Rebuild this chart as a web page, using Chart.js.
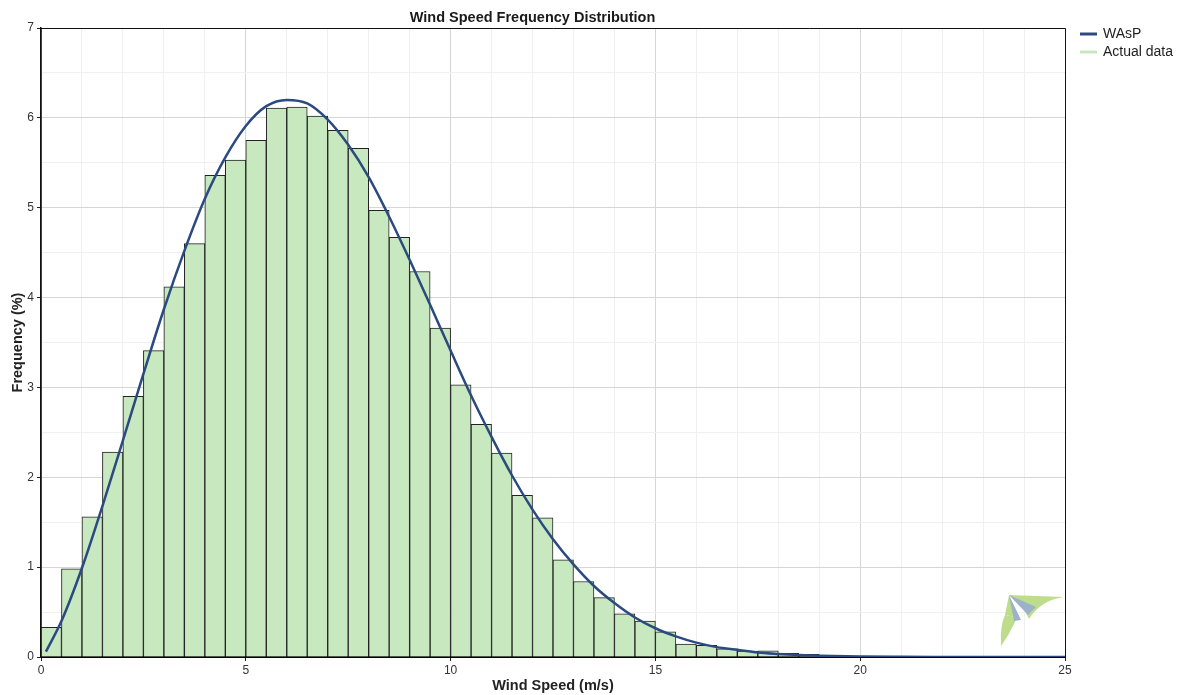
<!DOCTYPE html>
<html>
<head>
<meta charset="utf-8">
<script src="https://cdn.jsdelivr.net/npm/chart.js@4.4.1/dist/chart.umd.min.js"></script>
<style>
    html, body { margin: 0; padding: 0; background: #fff; }
    #wrap { width: 1185px; height: 695px; }
</style>
</head>
<body>
<div id="wrap"><canvas id="freqChart" width="1185" height="695"></canvas></div>
<script>
// bin centres (m/s), 0.5 m/s wide bins
const speedBins = [0.25, 0.75, 1.25, 1.75, 2.25, 2.75, 3.25, 3.75, 4.25, 4.75,
    5.25, 5.75, 6.25, 6.75, 7.25, 7.75, 8.25, 8.75, 9.25, 9.75,
    10.25, 10.75, 11.25, 11.75, 12.25, 12.75, 13.25, 13.75, 14.25, 14.75,
    15.25, 15.75, 16.25, 16.75, 17.25, 17.75, 18.25, 18.75];
const actualFreq = [0.33, 0.98, 1.56, 2.28, 2.90, 3.41, 4.12, 4.60, 5.36, 5.53,
    5.75, 6.11, 6.12, 6.02, 5.86, 5.66, 4.97, 4.67, 4.29, 3.66,
    3.03, 2.59, 2.27, 1.80, 1.55, 1.08, 0.84, 0.66, 0.48, 0.40,
    0.28, 0.145, 0.13, 0.09, 0.067, 0.07, 0.04, 0.03];

// WAsP fitted curve
const waspSpeeds = [0.12, 0.5, 1, 1.5, 2, 2.5, 3, 3.5, 4, 4.5,
    5, 5.5, 6, 6.5, 7, 7.5, 8, 8.5, 9, 9.5,
    10, 10.5, 11, 11.5, 12, 12.5, 13, 13.5, 14, 14.5,
    15, 15.5, 16, 16.5, 17, 17.5, 18, 18.5, 19, 20, 21, 22, 23, 24, 25];
const waspFreq = [0.06, 0.40, 0.99, 1.68, 2.41, 3.15, 3.87, 4.52, 5.10, 5.56,
    5.91, 6.13, 6.20, 6.16, 5.98, 5.70, 5.34, 4.90, 4.42, 3.92,
    3.41, 2.91, 2.45, 2.02, 1.64, 1.31, 1.03, 0.79, 0.60, 0.44,
    0.32, 0.23, 0.16, 0.11, 0.08, 0.05, 0.034, 0.022, 0.014, 0.005, 0.002, 0.001, 0, 0, 0];

const xTickLabels = [0, 5, 10, 15, 20, 25];
const yTickLabels = [0, 1, 2, 3, 4, 5, 6, 7];

const FONT = '"Liberation Sans", Arial, sans-serif';
const waspColor = '#2b4a80';
const barFill = '#c8e8c0';

// box round the plot area
const frameBox = {
    id: 'frameBox',
    afterDatasetsDraw(chart) {
        const a = chart.chartArea;
        const ctx = chart.ctx;
        ctx.save();
        ctx.strokeStyle = '#111';
        ctx.lineWidth = 1;
        ctx.beginPath();
        ctx.moveTo(a.left, a.bottom);
        ctx.lineTo(a.left, a.top + 0.5);
        ctx.lineTo(a.right + 0.5, a.top + 0.5);
        ctx.lineTo(a.right + 0.5, a.bottom);
        ctx.stroke();
        ctx.restore();
    }
};

// little logo in the bottom right corner
const logoMark = {
    id: 'logoMark',
    beforeDatasetsDraw(chart) {
        const R = chart.chartArea.right, B = chart.chartArea.bottom;
        const ctx = chart.ctx;
        ctx.save();
        ctx.fillStyle = '#bedd8c';
        // upper wing
        ctx.beginPath();
        ctx.moveTo(R - 56, B - 62);
        ctx.lineTo(R - 1, B - 60);
        ctx.quadraticCurveTo(R - 24, B - 57, R - 36, B - 38);
        ctx.lineTo(R - 42, B - 50);
        ctx.closePath();
        ctx.fill();
        // lower wing
        ctx.beginPath();
        ctx.moveTo(R - 56, B - 62);
        ctx.lineTo(R - 49, B - 40);
        ctx.lineTo(R - 60, B - 42);
        ctx.closePath();
        ctx.fill();
        ctx.beginPath();
        ctx.moveTo(R - 60, B - 42);
        ctx.lineTo(R - 49, B - 40);
        ctx.lineTo(R - 50, B - 35);
        ctx.quadraticCurveTo(R - 56, B - 22, R - 64, B - 11);
        ctx.quadraticCurveTo(R - 65, B - 32, R - 60, B - 42);
        ctx.closePath();
        ctx.fill();
        ctx.fillStyle = '#9cb2c8';
        ctx.beginPath();
        ctx.moveTo(R - 56, B - 62);
        ctx.lineTo(R - 29, B - 50);
        ctx.lineTo(R - 37, B - 42);
        ctx.closePath();
        ctx.fill();
        ctx.beginPath();
        ctx.moveTo(R - 56, B - 62);
        ctx.lineTo(R - 44, B - 37);
        ctx.lineTo(R - 51, B - 36);
        ctx.closePath();
        ctx.fill();
        ctx.restore();
    }
};

// legend to the right of the plot
const sideLegend = {
    id: 'sideLegend',
    afterDraw(chart) {
        const ctx = chart.ctx;
        const x0 = chart.chartArea.right + 15;
        ctx.save();
        ctx.font = '14px ' + FONT;
        ctx.textBaseline = 'middle';
        chart.data.datasets.forEach((ds, i) => {
            const y = 34 + i * 18;
            ctx.strokeStyle = ds.legendColor;
            ctx.lineWidth = 3;
            ctx.beginPath();
            ctx.moveTo(x0, y);
            ctx.lineTo(x0 + 17, y);
            ctx.stroke();
            ctx.fillStyle = '#222';
            ctx.fillText(ds.label, x0 + 23, y);
        });
        ctx.restore();
    }
};

const ctx = document.getElementById('freqChart');
new Chart(ctx, {
    type: 'bar',
    data: {
        datasets: [
            {
                type: 'line',
                label: 'WAsP',
                legendColor: waspColor,
                data: waspSpeeds.map((s, i) => ({x: s, y: waspFreq[i]})),
                borderColor: waspColor,
                borderWidth: 2.5,
                pointRadius: 0,
                cubicInterpolationMode: 'monotone',
                order: 0
            },
            {
                type: 'bar',
                label: 'Actual data',
                legendColor: barFill,
                data: speedBins.map((s, i) => ({x: s, y: actualFreq[i]})),
                backgroundColor: barFill,
                borderColor: '#222',
                borderWidth: 1,
                barPercentage: 1,
                categoryPercentage: 1,
                order: 1
            }
        ]
    },
    options: {
        responsive: false,
        animation: false,
        layout: { padding: { left: 0, right: 120, top: 0, bottom: 0 } },
        plugins: {
            legend: { display: false },
            tooltip: { enabled: false },
            title: {
                display: true,
                text: 'Wind Speed Frequency Distribution',
                color: '#1a1a1a',
                font: { family: FONT, size: 14.5, weight: 'bold' },
                padding: { top: 9.3, bottom: 1.3 }
            }
        },
        scales: {
            x: {
                type: 'linear',
                min: 0,
                max: 25,
                offset: false,
                afterFit(scale) { scale.height = 38; },
                grid: {
                    offset: false,
                    color: c => (c.tick && c.tick.value % 5 === 0) ? '#d6d6d6' : '#f0f0f0',
                    tickColor: c => (c.tick && c.tick.value % 5 === 0) ? '#222' : 'rgba(0,0,0,0)',
                    tickLength: 4
                },
                border: { color: '#000', width: 2 },
                ticks: {
                    stepSize: 1,
                    autoSkip: false,
                    maxRotation: 0,
                    padding: 2,
                    color: '#333',
                    font: { family: FONT, size: 12 },
                    callback: v => xTickLabels.includes(v) ? String(v) : ''
                },
                title: {
                    display: true,
                    text: 'Wind Speed (m/s)',
                    color: '#222',
                    font: { family: FONT, size: 14.5, weight: 'bold' },
                    padding: { top: 0, bottom: 0.5 }
                }
            },
            y: {
                min: 0,
                max: 7,
                afterFit(scale) { scale.width = 41; },
                grid: {
                    color: c => (c.tick && Number.isInteger(c.tick.value)) ? '#d6d6d6' : '#f0f0f0',
                    tickColor: c => (c.tick && Number.isInteger(c.tick.value)) ? '#222' : 'rgba(0,0,0,0)',
                    tickLength: 4
                },
                border: { color: '#111', width: 1.5 },
                ticks: {
                    stepSize: 0.5,
                    autoSkip: false,
                    padding: 3,
                    color: '#333',
                    font: { family: FONT, size: 12 },
                    callback: v => yTickLabels.includes(v) ? String(v) : ''
                },
                title: {
                    display: true,
                    text: 'Frequency (%)',
                    color: '#222',
                    font: { family: FONT, size: 14.5, weight: 'bold' },
                    padding: { top: 8.8, bottom: 0 }
                }
            }
        }
    },
    plugins: [logoMark, frameBox, sideLegend]
});
</script>
</body>
</html>
